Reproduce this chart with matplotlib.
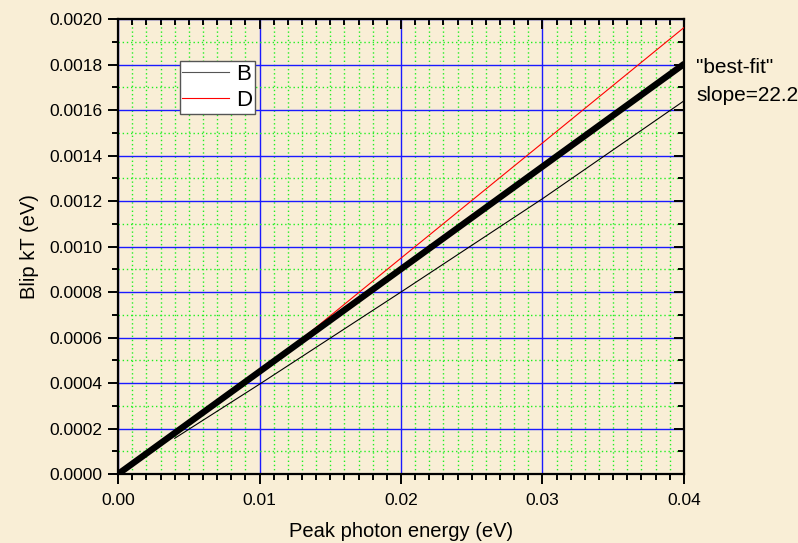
import numpy as np
import matplotlib.pyplot as plt
from matplotlib.ticker import MultipleLocator, FormatStrFormatter

plt.rcParams['font.family'] = ['Liberation Sans', 'DejaVu Sans']

PAPER = '#f9eed6'

# best-fit line: kT = E / slope
fit_slope = 22.2
fit_x = [0.0, 0.04]

# curve B
b_x = [0.004, 0.010, 0.020, 0.030, 0.040]
b_y = [0.000157, 0.000395, 0.000800, 0.001210, 0.001640]

# curve D
d_x = [0.0115, 0.020, 0.030, 0.040]
d_y = [0.000518, 0.000949, 0.001455, 0.001962]

fig = plt.figure(figsize=(7.98, 5.43), dpi=100, facecolor=PAPER)
ax = fig.add_axes([0.148, 0.127, 0.709, 0.838])
ax.set_facecolor(PAPER)

ax.set_xlim(0, 0.04)
ax.set_ylim(0, 0.002)
ax.xaxis.set_major_locator(MultipleLocator(0.01))
ax.xaxis.set_minor_locator(MultipleLocator(0.001))
ax.yaxis.set_major_locator(MultipleLocator(0.0002))
ax.yaxis.set_minor_locator(MultipleLocator(0.0001))
ax.xaxis.set_major_formatter(FormatStrFormatter('%.2f'))
ax.yaxis.set_major_formatter(FormatStrFormatter('%.4f'))

ax.grid(which='minor', color='#22ee22', linestyle=(0, (1, 2)), linewidth=1.0)
ax.grid(which='major', color='#1a1aff', linestyle='-', linewidth=1.0)
ax.set_axisbelow(True)

for s in ax.spines.values():
    s.set_linewidth(1.6)

ax.tick_params(which='both', labelsize=12.5, width=1.4, top=True, right=True)
ax.tick_params(which='major', length=7)
ax.tick_params(which='minor', length=4)
ax.tick_params(axis='x', which='both', direction='out', pad=7)
ax.tick_params(axis='y', which='both', direction='out', pad=4)
# ticks on the top and right edges point inward
for tk in ax.xaxis.get_major_ticks() + ax.xaxis.get_minor_ticks():
    tk.tick2line.set_marker(3)
for tk in ax.yaxis.get_major_ticks() + ax.yaxis.get_minor_ticks():
    tk.tick2line.set_marker(0)

fit_y = [x / fit_slope for x in fit_x]
ax.plot(fit_x, fit_y, color='black', linewidth=4.6, solid_capstyle='round', zorder=4)
ax.plot(b_x, b_y, color='black', linewidth=0.8, label='B', zorder=3)
ax.plot(d_x, d_y, color='red', linewidth=0.8, label='D', zorder=3)

leg = ax.legend(loc='upper left', bbox_to_anchor=(0.109, 0.908), fontsize=16,
                frameon=True, fancybox=False, framealpha=1, edgecolor='#555555',
                handlelength=2.1, handletextpad=0.3, borderpad=0.12,
                labelspacing=0.25, borderaxespad=0)
leg.get_frame().set_linewidth(1.0)
leg.get_lines()[0].set_color('#555555')

ax.set_xlabel('Peak photon energy (eV)', fontsize=14.5, labelpad=10)
ax.set_ylabel('Blip kT (eV)', fontsize=14.5, labelpad=8)

tr = ax.get_yaxis_transform()
ax.text(1.022, 0.001785, '"best-fit"', transform=tr, fontsize=15,
        va='center', ha='left', clip_on=False)
ax.text(1.022, 0.001662, 'slope=%.1f' % fit_slope, transform=tr, fontsize=15,
        va='center', ha='left', clip_on=False)

fig.savefig('out.png', dpi=100, facecolor=PAPER)
